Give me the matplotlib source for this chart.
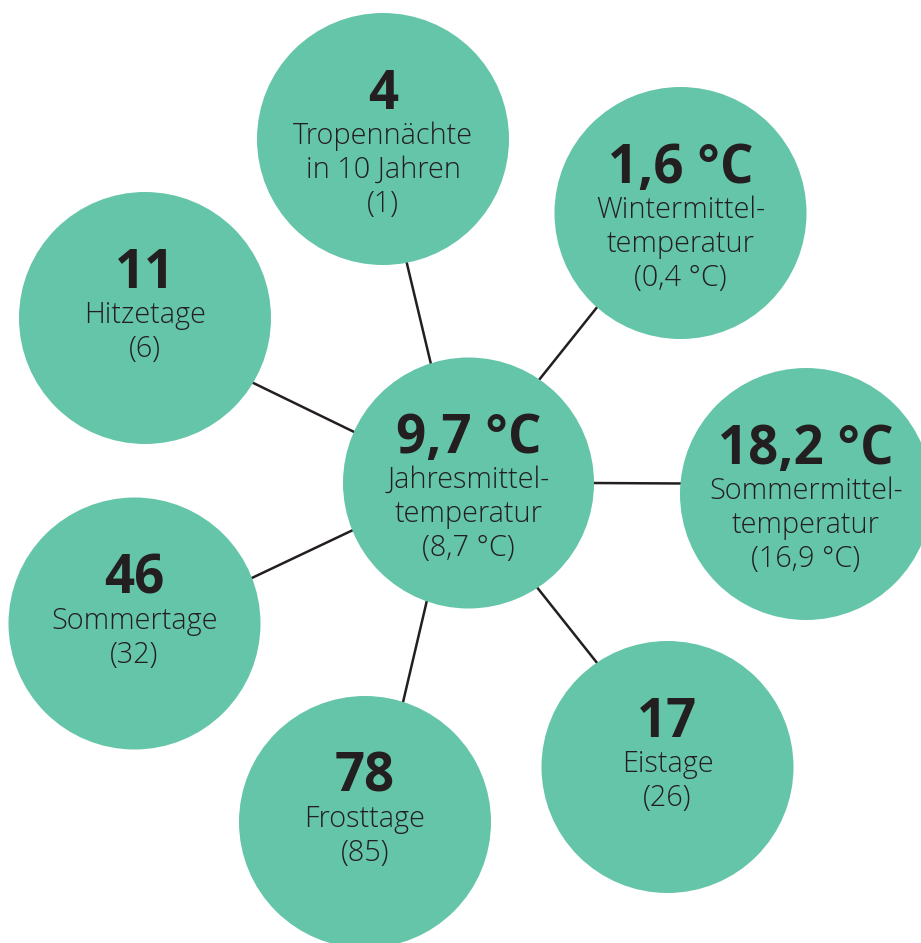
import matplotlib
matplotlib.use("Agg")
import matplotlib.pyplot as plt
from matplotlib.patches import Circle
import numpy as np

# ---- data ----
values = ["9,7 °C", "4", "1,6 °C", "18,2 °C", "17", "78", "46", "11"]
labels = [
    ["Jahresmittel-", "temperatur", "(8,7 °C)"],
    ["Tropennächte", "in 10 Jahren", "(1)"],
    ["Wintermittel-", "temperatur", "(0,4 °C)"],
    ["Sommermittel-", "temperatur", "(16,9 °C)"],
    ["Eistage", "(26)"],
    ["Frosttage", "(85)"],
    ["Sommertage", "(32)"],
    ["Hitzetage", "(6)"],
]

# ---- layout (pixel space) ----
centers_x = [468.5, 383, 680.5, 806, 667.5, 365, 134.5, 145]
centers_y = [483, 139, 213, 494, 767, 822, 623.5, 318]
radii = [125.5, 126, 126, 126, 126, 126, 126, 126]
# connector attachment angles (deg): on hub circle, on outer circle
hub_angles = [107.6, 55.7, 0.0, -56.8, -109.6, 202.1, 156.0]
outer_angles = [-79.2, 228.4, 175.1, 124.0, 72.3, 21.1, -31.1]

W, H = 921, 943
fig = plt.figure(figsize=(W / 100, H / 100), dpi=100)
ax = fig.add_axes([0, 0, 1, 1])
ax.set_xlim(0, W)
ax.set_ylim(H, 0)
ax.set_aspect("equal")
ax.axis("off")

green = "#65C5A9"
dark = "#231F20"
fam = ["Open Sans", "DejaVu Sans"]

# connectors
for i, (a1, a2) in enumerate(zip(hub_angles, outer_angles)):
    j = i + 1
    r0 = radii[0] - 3
    r1 = radii[j] - 3
    x0 = centers_x[0] + r0 * np.cos(np.radians(a1))
    y0 = centers_y[0] - r0 * np.sin(np.radians(a1))
    x1 = centers_x[j] + r1 * np.cos(np.radians(a2))
    y1 = centers_y[j] - r1 * np.sin(np.radians(a2))
    ax.plot([x0, x1], [y0, y1], color=dark, lw=1.8, zorder=1, solid_capstyle="butt")

for cx, cy, r, v, lab in zip(centers_x, centers_y, radii, values, labels):
    ax.add_patch(Circle((cx, cy), r, facecolor=green, edgecolor="none", zorder=2))
    ax.text(cx, cy - 30, v, ha="center", va="baseline", fontsize=38,
            fontweight="bold", color=dark, family=fam, zorder=3)
    for k, line in enumerate(lab):
        ax.text(cx, cy + 5 + 34 * k, line, ha="center", va="baseline",
                fontsize=20.8, fontweight="light", color=dark, family=fam, zorder=3)

fig.savefig("out.png", dpi=100)
